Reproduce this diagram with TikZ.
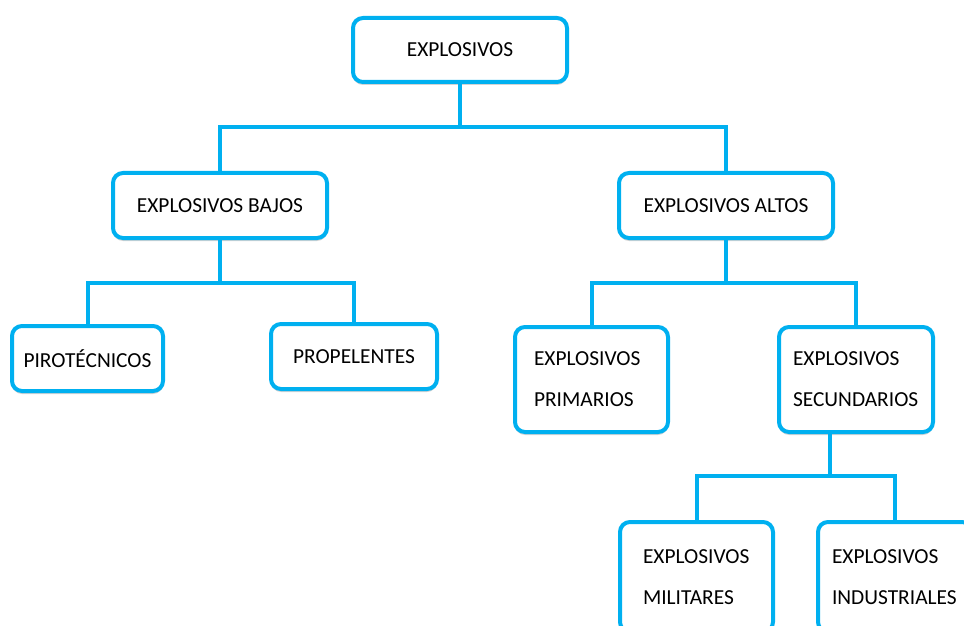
\documentclass[tikz,border=0pt]{standalone}
\usepackage{fontspec}
\setmainfont{Carlito}
\usetikzlibrary{shadows}
\definecolor{boxblue}{HTML}{00B0F0}
\tikzset{
  box/.style={draw=boxblue, line width=2pt, rounded corners=5pt, fill=white,
    drop shadow={opacity=0.35, shadow xshift=0pt, shadow yshift=-1.5pt},
    inner sep=0pt, minimum height=32.5pt},
  twoline/.style={box, align=left, minimum height=52.5pt},
  link/.style={draw=boxblue, line width=2pt}
}

\begin{document}
\begin{tikzpicture}[x=0.5pt, y=-0.5pt, font=\fontsize{10.7}{20.5}\selectfont]
\useasboundingbox (0,0) rectangle (964,626);
\clip (0,0) rectangle (964,626);

\node[box, minimum width=107pt, minimum height=32pt] (explosivos) at (460,50) {EXPLOSIVOS};
\coordinate (explosivos-out) at (460,127);

\node[box, minimum width=107pt] (bajos) at (220,205.5) {EXPLOSIVOS BAJOS};
\node[box, minimum width=107pt] (altos) at (726,205.5) {EXPLOSIVOS ALTOS};
\draw[link] (explosivos.south) -- (explosivos-out);
\draw[link] (bajos.north) |- (explosivos-out) -| (altos.north);

\node[box, minimum width=75.5pt] (pirotecnicos) at (87.5,358.5) {PIROTÉCNICOS};
\node[box, minimum width=83pt] (propelentes) at (354,356.5) {PROPELENTES};
\coordinate (bajos-out) at (220,283);
\draw[link] (bajos.south) -- (bajos-out);
\draw[link] (pirotecnicos.north) |- (bajos-out) -| (propelentes.north);

\node[twoline, inner xsep=9.5pt, text width=57.5pt] (primarios) at (591.5,379.5) {EXPLOSIVOS\\PRIMARIOS};
\node[twoline, inner xsep=7pt, text width=63pt] (secundarios) at (856,379.5) {EXPLOSIVOS\\SECUNDARIOS};
\coordinate (altos-out) at (726,283);
\draw[link] (altos.south) -- (altos-out);
\draw[link] (primarios.north) |- (altos-out) -| (secundarios.north);

\node[twoline, inner xsep=11.5pt, text width=53.5pt, minimum height=55pt] (militares) at (696.5,577) {EXPLOSIVOS\\MILITARES};
\node[twoline, inner xsep=7pt, text width=63pt, minimum height=55pt] (industriales) at (895,577) {EXPLOSIVOS\\INDUSTRIALES};
\coordinate (secundarios-out) at (830,476);
\draw[link] (secundarios-out |- secundarios.south) -- (secundarios-out);
\draw[link] (militares.north) |- (secundarios-out) -| (industriales.north);
\end{tikzpicture}
\end{document}
